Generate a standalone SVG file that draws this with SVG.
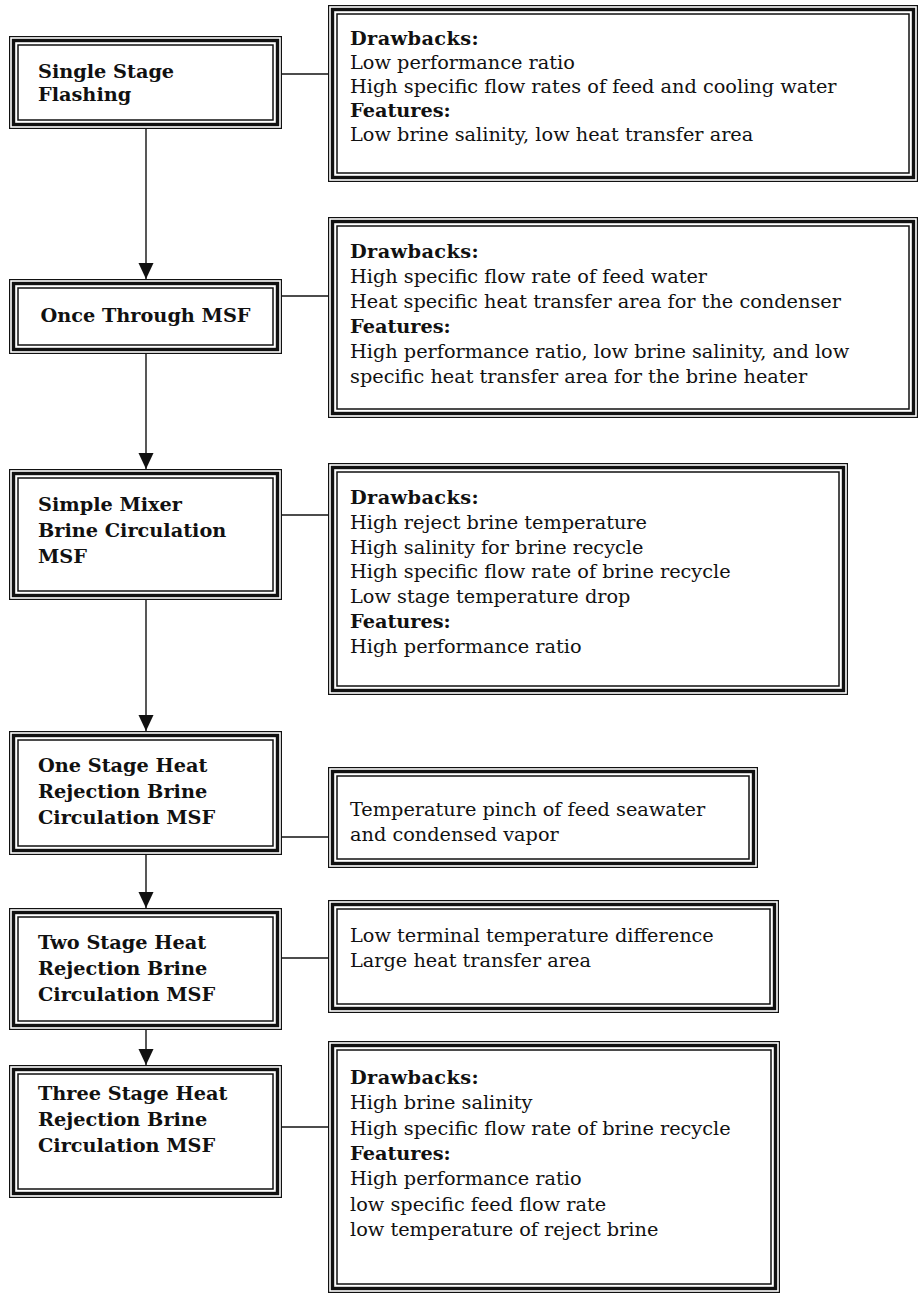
<svg xmlns="http://www.w3.org/2000/svg" width="920" height="1294" viewBox="0 0 920 1294">
<defs>
<style>
.o{fill:#fff;stroke:#111;stroke-width:1.2}
.k{fill:none;stroke:#111;stroke-width:3.4}
.i{fill:none;stroke:#111;stroke-width:1.5}
.c{fill:none;stroke:#111;stroke-width:1.4}
text{font-family:"DejaVu Serif","Liberation Serif",serif;font-size:19.3px;fill:#111}
.b{font-weight:bold}
.h{font-weight:bold;letter-spacing:0.4px}
</style>
<marker id="ah" markerUnits="userSpaceOnUse" markerWidth="16" markerHeight="17" refX="17" refY="8" orient="auto" viewBox="0 0 17 16">
<path d="M0,0 L17,8 L0,16 z" fill="#111"/>
</marker>
</defs>
<rect width="920" height="1294" fill="#fff"/>

<g id="connectors">
<line class="c" x1="146" y1="129" x2="146" y2="279" marker-end="url(#ah)"/>
<line class="c" x1="146" y1="354" x2="146" y2="469" marker-end="url(#ah)"/>
<line class="c" x1="146" y1="600" x2="146" y2="731" marker-end="url(#ah)"/>
<line class="c" x1="146" y1="855" x2="146" y2="908" marker-end="url(#ah)"/>
<line class="c" x1="146" y1="1030" x2="146" y2="1065" marker-end="url(#ah)"/>
<line class="c" x1="282" y1="74" x2="328" y2="74"/>
<line class="c" x1="282" y1="296" x2="328" y2="296"/>
<line class="c" x1="282" y1="515" x2="328" y2="515"/>
<line class="c" x1="282" y1="837" x2="328" y2="837"/>
<line class="c" x1="282" y1="958" x2="328" y2="958"/>
<line class="c" x1="282" y1="1127" x2="328" y2="1127"/>
</g>

<g id="node-single-stage">
<rect class="o" x="9.6" y="36.6" width="271.8" height="91.8"/>
<rect class="k" x="13.5" y="40.5" width="264" height="84"/>
<rect class="i" x="18" y="45" width="255" height="75"/>
<text class="b" x="38" y="78">Single Stage</text>
<text class="b" x="38" y="101">Flashing</text>
</g>

<g id="node-once-through">
<rect class="o" x="9.6" y="279.6" width="271.8" height="73.8"/>
<rect class="k" x="13.5" y="283.5" width="264" height="66"/>
<rect class="i" x="18" y="288" width="255" height="57"/>
<text class="b" x="145.5" y="322" text-anchor="middle">Once Through MSF</text>
</g>

<g id="node-simple-mixer">
<rect class="o" x="9.6" y="469.6" width="271.8" height="129.8"/>
<rect class="k" x="13.5" y="473.5" width="264" height="122"/>
<rect class="i" x="18" y="478" width="255" height="113"/>
<text class="b" x="38" y="511">Simple Mixer</text>
<text class="b" x="38" y="537">Brine Circulation</text>
<text class="b" x="38" y="563">MSF</text>
</g>

<g id="node-one-stage">
<rect class="o" x="9.6" y="731.6" width="271.8" height="122.8"/>
<rect class="k" x="13.5" y="735.5" width="264" height="115"/>
<rect class="i" x="18" y="740" width="255" height="106"/>
<text class="b" x="38" y="772">One Stage Heat</text>
<text class="b" x="38" y="798">Rejection Brine</text>
<text class="b" x="38" y="824">Circulation MSF</text>
</g>

<g id="node-two-stage">
<rect class="o" x="9.6" y="908.6" width="271.8" height="120.8"/>
<rect class="k" x="13.5" y="912.5" width="264" height="113"/>
<rect class="i" x="18" y="917" width="255" height="104"/>
<text class="b" x="38" y="949">Two Stage Heat</text>
<text class="b" x="38" y="975">Rejection Brine</text>
<text class="b" x="38" y="1001">Circulation MSF</text>
</g>

<g id="node-three-stage">
<rect class="o" x="9.6" y="1065.6" width="271.8" height="131.8"/>
<rect class="k" x="13.5" y="1069.5" width="264" height="124"/>
<rect class="i" x="18" y="1074" width="255" height="115"/>
<text class="b" x="38" y="1100">Three Stage Heat</text>
<text class="b" x="38" y="1126">Rejection Brine</text>
<text class="b" x="38" y="1152">Circulation MSF</text>
</g>

<g id="note-single-stage">
<rect class="o" x="328.6" y="5.6" width="588.8" height="175.8"/>
<rect class="k" x="332.5" y="9.5" width="581" height="168"/>
<rect class="i" x="337" y="14" width="572" height="159"/>
<text class="h" x="350" y="45">Drawbacks:</text>
<text x="350" y="69">Low performance ratio</text>
<text x="350" y="93">High specific flow rates of feed and cooling water</text>
<text class="b" x="350" y="117">Features:</text>
<text x="350" y="141">Low brine salinity, low heat transfer area</text>
</g>

<g id="note-once-through">
<rect class="o" x="328.6" y="217.6" width="588.8" height="199.8"/>
<rect class="k" x="332.5" y="221.5" width="581" height="192"/>
<rect class="i" x="337" y="226" width="572" height="183"/>
<text class="h" x="350" y="258">Drawbacks:</text>
<text x="350" y="283">High specific flow rate of feed water</text>
<text x="350" y="308">Heat specific heat transfer area for the condenser</text>
<text class="b" x="350" y="333">Features:</text>
<text x="350" y="358">High performance ratio, low brine salinity, and low</text>
<text x="350" y="383">specific heat transfer area for the brine heater</text>
</g>

<g id="note-simple-mixer">
<rect class="o" x="328.6" y="463.6" width="518.8" height="230.8"/>
<rect class="k" x="332.5" y="467.5" width="511" height="223"/>
<rect class="i" x="337" y="472" width="502" height="214"/>
<text class="h" x="350" y="504">Drawbacks:</text>
<text x="350" y="529">High reject brine temperature</text>
<text x="350" y="554">High salinity for brine recycle</text>
<text x="350" y="578">High specific flow rate of brine recycle</text>
<text x="350" y="603">Low stage temperature drop</text>
<text class="b" x="350" y="628">Features:</text>
<text x="350" y="653">High performance ratio</text>
</g>

<g id="note-one-stage">
<rect class="o" x="328.6" y="767.6" width="428.8" height="99.8"/>
<rect class="k" x="332.5" y="771.5" width="421" height="92"/>
<rect class="i" x="337" y="776" width="412" height="83"/>
<text x="350" y="816">Temperature pinch of feed seawater</text>
<text x="350" y="841">and condensed vapor</text>
</g>

<g id="note-two-stage">
<rect class="o" x="328.6" y="900.6" width="449.8" height="111.8"/>
<rect class="k" x="332.5" y="904.5" width="442" height="104"/>
<rect class="i" x="337" y="909" width="433" height="95"/>
<text x="350" y="942">Low terminal temperature difference</text>
<text x="350" y="967">Large heat transfer area</text>
</g>

<g id="note-three-stage">
<rect class="o" x="328.6" y="1041.6" width="450.8" height="250.8"/>
<rect class="k" x="332.5" y="1045.5" width="443" height="243"/>
<rect class="i" x="337" y="1050" width="434" height="234"/>
<text class="h" x="350" y="1084">Drawbacks:</text>
<text x="350" y="1109">High brine salinity</text>
<text x="350" y="1135">High specific flow rate of brine recycle</text>
<text class="b" x="350" y="1160">Features:</text>
<text x="350" y="1185">High performance ratio</text>
<text x="350" y="1211">low specific feed flow rate</text>
<text x="350" y="1236">low temperature of reject brine</text>
</g>
</svg>
